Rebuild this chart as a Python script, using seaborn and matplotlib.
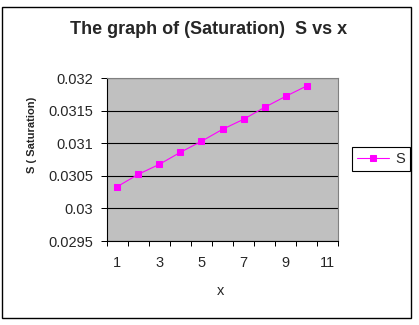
import matplotlib
matplotlib.use("Agg")
import matplotlib.pyplot as plt
import matplotlib.patches as patches
from matplotlib.ticker import FixedLocator, FuncFormatter
import seaborn as sns
import pandas as pd

# data
x_vals = [1, 2, 3, 4, 5, 6, 7, 8, 9, 10]
s_vals = [0.030335, 0.030525, 0.030678, 0.030863, 0.031032,
          0.031216, 0.031370, 0.031554, 0.031723, 0.031882]
x_labels = [1, 3, 5, 7, 9, 11]
y_ticks = [0.0295, 0.03, 0.0305, 0.031, 0.0315, 0.032]

df = pd.DataFrame({'x': x_vals, 'S': s_vals})

sns.set_style('white')
plt.rcParams['font.family'] = ['Liberation Sans', 'DejaVu Sans']

W, H = 419, 325
fig = plt.figure(figsize=(W / 100, H / 100), dpi=100)
ax = fig.add_axes([106.7 / W, 1 - 241 / H, (338.3 - 106.7) / W, (241 - 78.3) / H])
ax.set_facecolor('#C0C0C0')

sns.lineplot(data=df, x='x', y='S', ax=ax, color='#FF00FF', marker='s',
             markersize=5, markeredgecolor='#FF00FF', linewidth=0.8, label='S')

# axes
ax.set_xlim(0.5, 11.5)
ax.set_ylim(y_ticks[0], y_ticks[-1])
ax.xaxis.set_major_locator(FixedLocator([v + 0.5 for v in range(0, 12)]))
ax.xaxis.set_major_formatter(FuncFormatter(lambda v, p: ''))
ax.xaxis.set_minor_locator(FixedLocator(x_labels))
ax.xaxis.set_minor_formatter(FuncFormatter(lambda v, p: '%d' % v))
ax.set_yticks(y_ticks)
ax.yaxis.set_major_formatter(FuncFormatter(lambda v, p: '%g' % v))
ax.tick_params(axis='x', which='major', direction='out', length=3.5, width=0.72,
               color='black', bottom=True)
ax.tick_params(axis='x', which='minor', length=0, pad=11, labelsize=10.5, bottom=True)
ax.tick_params(axis='y', direction='out', length=4.3, width=0.72, color='black',
               pad=5.5, labelsize=10.5, left=True)
ax.set_xlabel('')
ax.set_ylabel('')

ax.grid(axis='y', color='black', linewidth=0.8)
ax.set_axisbelow(True)
for side in ['top', 'right']:
    ax.spines[side].set_color('#808080')
    ax.spines[side].set_linewidth(0.8)
for side in ['left', 'bottom']:
    ax.spines[side].set_color('black')
    ax.spines[side].set_linewidth(0.8)

# legend
leg = ax.legend(loc='upper left', bbox_to_anchor=(352 / W, 1 - 147 / H),
                bbox_transform=fig.transFigure, frameon=True, fancybox=False,
                framealpha=1, edgecolor='black', fontsize=10.5, handlelength=2.2,
                borderpad=0.35, handletextpad=0.4, borderaxespad=0)
leg.get_frame().set_linewidth(0.8)

# titles
fig.text(209 / W, 1 - 29 / H, 'The graph of (Saturation)  S vs x',
         ha='center', va='center', fontsize=13, fontweight='bold')
fig.text(221 / W, 1 - 291 / H, 'x', ha='center', va='center', fontsize=10.5)
fig.text(32 / W, 1 - 135 / H, 'S ( Saturation)', rotation=90,
         ha='center', va='center', fontsize=8, fontweight='bold')

# chart border
fig.patches.append(patches.Rectangle((1.5 / W, 1 - 318 / H), 409 / W, 311 / H,
                                     fill=False, edgecolor='black', linewidth=1,
                                     transform=fig.transFigure))

fig.savefig('out.png', dpi=100)
